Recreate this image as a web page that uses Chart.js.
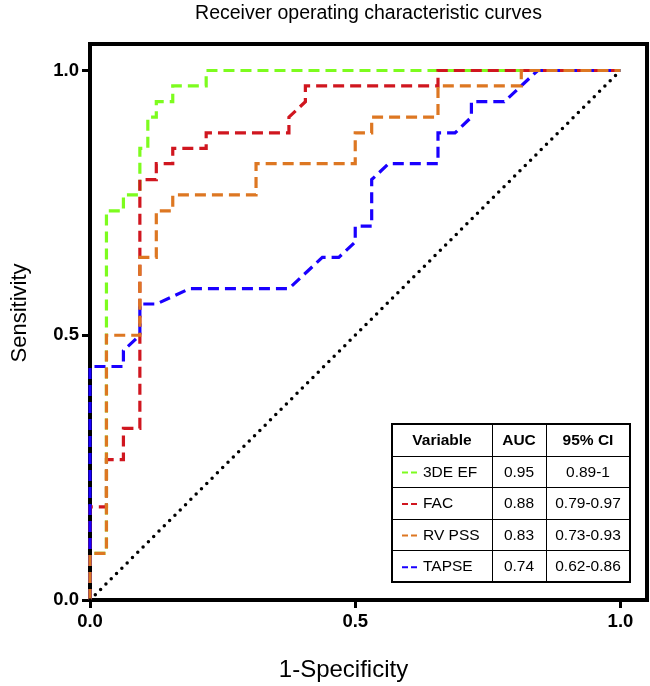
<!DOCTYPE html>
<html>
<head>
<meta charset="utf-8">
<script src="https://cdn.jsdelivr.net/npm/chart.js@4.4.1/dist/chart.umd.min.js"></script>
<style>
    html, body { margin: 0; padding: 0; background: #fff; }
</style>
</head>
<body>
<canvas id="rocChart" width="650" height="686"></canvas>
<script>
// values (1-specificity, sensitivity)
const efX = [0, 0, 0.031, 0.031, 0.063, 0.063, 0.094, 0.094, 0.109, 0.109, 0.125, 0.125, 0.156, 0.156, 0.219, 0.219, 1];
const efY = [0, 0.088, 0.088, 0.735, 0.735, 0.765, 0.765, 0.853, 0.853, 0.912, 0.912, 0.941, 0.941, 0.971, 0.971, 1, 1];

const facX = [0, 0, 0.031, 0.031, 0.063, 0.063, 0.094, 0.094, 0.125, 0.125, 0.156, 0.156, 0.219, 0.219, 0.375, 0.375, 0.406, 0.406, 0.656, 0.656, 1];
const facY = [0, 0.176, 0.176, 0.265, 0.265, 0.324, 0.324, 0.794, 0.794, 0.824, 0.824, 0.853, 0.853, 0.882, 0.882, 0.912, 0.941, 0.971, 0.971, 1, 1];

const pssX = [0, 0, 0.031, 0.031, 0.094, 0.094, 0.125, 0.125, 0.156, 0.156, 0.313, 0.313, 0.5, 0.5, 0.531, 0.531, 0.656, 0.656, 0.813, 0.813, 1];
const pssY = [0, 0.088, 0.088, 0.5, 0.5, 0.647, 0.647, 0.735, 0.735, 0.765, 0.765, 0.824, 0.824, 0.882, 0.882, 0.912, 0.912, 0.971, 0.971, 1, 1];

const tapseX = [0, 0, 0.063, 0.063, 0.094, 0.094, 0.125, 0.188, 0.375, 0.438, 0.469, 0.5, 0.5, 0.531, 0.531, 0.563, 0.656, 0.656, 0.688, 0.719, 0.719, 0.781, 0.844, 1];
const tapseY = [0, 0.441, 0.441, 0.471, 0.5, 0.559, 0.559, 0.588, 0.588, 0.647, 0.647, 0.676, 0.706, 0.706, 0.794, 0.824, 0.824, 0.882, 0.882, 0.912, 0.941, 0.941, 1, 1];

const refX = [0, 1];
const refY = [0, 1];

const axisTicks = [0, 0.5, 1];

const variables = ["3DE EF", "FAC", "RV PSS", "TAPSE"];
const aucValues = ["0.95", "0.88", "0.83", "0.74"];
const ciValues = ["0.89-1", "0.79-0.97", "0.73-0.93", "0.62-0.86"];
const colors = ["#7dfc1e", "#d0161f", "#dd7722", "#1a00ff"];

function toPoints(xs, ys) {
    return xs.map((x, i) => ({ x: x, y: ys[i] }));
}

function curve(label, xs, ys, color) {
    return {
        label: label,
        data: toPoints(xs, ys),
        showLine: true,
        borderColor: color,
        borderWidth: 3.2,
        borderDash: [11, 6],
        pointRadius: 0,
        fill: false,
        clip: false
    };
}

const font = "'Liberation Sans', Arial, sans-serif";

// frame on top/right, titles and the AUC table
const extras = {
    id: "extras",
    beforeDatasetsDraw(chart) {
        const a = chart.chartArea;
        const c = chart.ctx;
        c.save();
        c.strokeStyle = "#000";
        c.lineWidth = 4;
        c.beginPath();
        c.moveTo(a.left, a.top);
        c.lineTo(a.right, a.top);
        c.lineTo(a.right, a.bottom);
        c.stroke();
        c.restore();
    },
    afterDraw(chart) {
        const a = chart.chartArea;
        const c = chart.ctx;
        c.save();
        c.fillStyle = "#000";
        c.textAlign = "center";
        c.textBaseline = "middle";

        c.font = "19.5px " + font;
        c.fillText("Receiver operating characteristic curves", (a.left + a.right) / 2, 14);

        c.font = "24px " + font;
        c.fillText("1-Specificity", (a.left + a.right) / 2 - 25, 670);

        c.save();
        c.translate(20, (a.top + a.bottom) / 2 - 9);
        c.rotate(-Math.PI / 2);
        c.font = "22px " + font;
        c.fillText("Sensitivity", 0, 0);
        c.restore();

        // table
        const left = a.right - 255, right = a.right - 17;
        const top = a.bottom - 176, bottom = a.bottom - 18;
        const cols = [left, left + 100, left + 154, right];
        const rowH = (bottom - top) / 5;
        c.fillStyle = "#fff";
        c.fillRect(left, top, right - left, bottom - top);

        c.strokeStyle = "#000";
        c.lineWidth = 1;
        c.beginPath();
        for (let i = 1; i < 5; i++) {
            c.moveTo(left, Math.round(top + rowH * i) + 0.5);
            c.lineTo(right, Math.round(top + rowH * i) + 0.5);
        }
        for (let j = 1; j < 3; j++) {
            c.moveTo(cols[j] + 0.5, top);
            c.lineTo(cols[j] + 0.5, bottom);
        }
        c.stroke();
        c.lineWidth = 2;
        c.strokeRect(left, top, right - left, bottom - top);

        c.fillStyle = "#000";
        c.font = "bold 15.5px " + font;
        const head = ["Variable", "AUC", "95% CI"];
        head.forEach((h, j) => c.fillText(h, (cols[j] + cols[j + 1]) / 2, top + rowH / 2 + 1));

        c.font = "15.5px " + font;
        variables.forEach((v, i) => {
            const cy = top + rowH * (i + 1.5) + 1;
            c.save();
            c.strokeStyle = colors[i];
            c.lineWidth = 2;
            c.setLineDash([6, 3]);
            c.beginPath();
            c.moveTo(left + 10, cy);
            c.lineTo(left + 25, cy);
            c.stroke();
            c.restore();
            c.textAlign = "left";
            c.fillText(v, left + 31, cy);
            c.textAlign = "center";
            c.fillText(aucValues[i], (cols[1] + cols[2]) / 2, cy);
            c.fillText(ciValues[i], (cols[2] + cols[3]) / 2, cy);
        });
        c.restore();
    }
};

function axisOptions(isX) {
    return {
        type: "linear",
        min: 0,
        max: 1.05,
        afterBuildTicks: (s) => { s.ticks = axisTicks.map(v => ({ value: v })); },
        afterFit: (s) => {
            if (isX) s.height = 86; else s.width = 90;
        },
        ticks: {
            color: "#000",
            font: { family: font, size: 18.5, weight: "bold" },
            padding: 3,
            callback: (v) => v.toFixed(1)
        },
        grid: {
            drawOnChartArea: false,
            drawTicks: true,
            tickLength: 8,
            color: "#000",
            lineWidth: 3
        },
        border: { color: "#000", width: 4 }
    };
}

new Chart(document.getElementById("rocChart"), {
    type: "scatter",
    data: {
        datasets: [
            {
                label: "Reference",
                data: toPoints(refX, refY),
                showLine: true,
                borderColor: "#000",
                borderWidth: 3.5,
                borderDash: [0, 7.5],
                borderCapStyle: "round",
                pointRadius: 0,
                clip: false
            },
            curve("RV PSS", pssX, pssY, colors[2]),
            curve("TAPSE", tapseX, tapseY, colors[3]),
            curve("FAC", facX, facY, colors[1]),
            curve("3DE EF", efX, efY, colors[0])
        ]
    },
    options: {
        responsive: false,
        devicePixelRatio: 1,
        animation: false,
        layout: { padding: { top: 44, right: 3, left: 0, bottom: 0 } },
        plugins: {
            legend: { display: false },
            tooltip: { enabled: false },
            title: { display: false }
        },
        scales: {
            x: axisOptions(true),
            y: axisOptions(false)
        }
    },
    plugins: [extras]
});
</script>
</body>
</html>
